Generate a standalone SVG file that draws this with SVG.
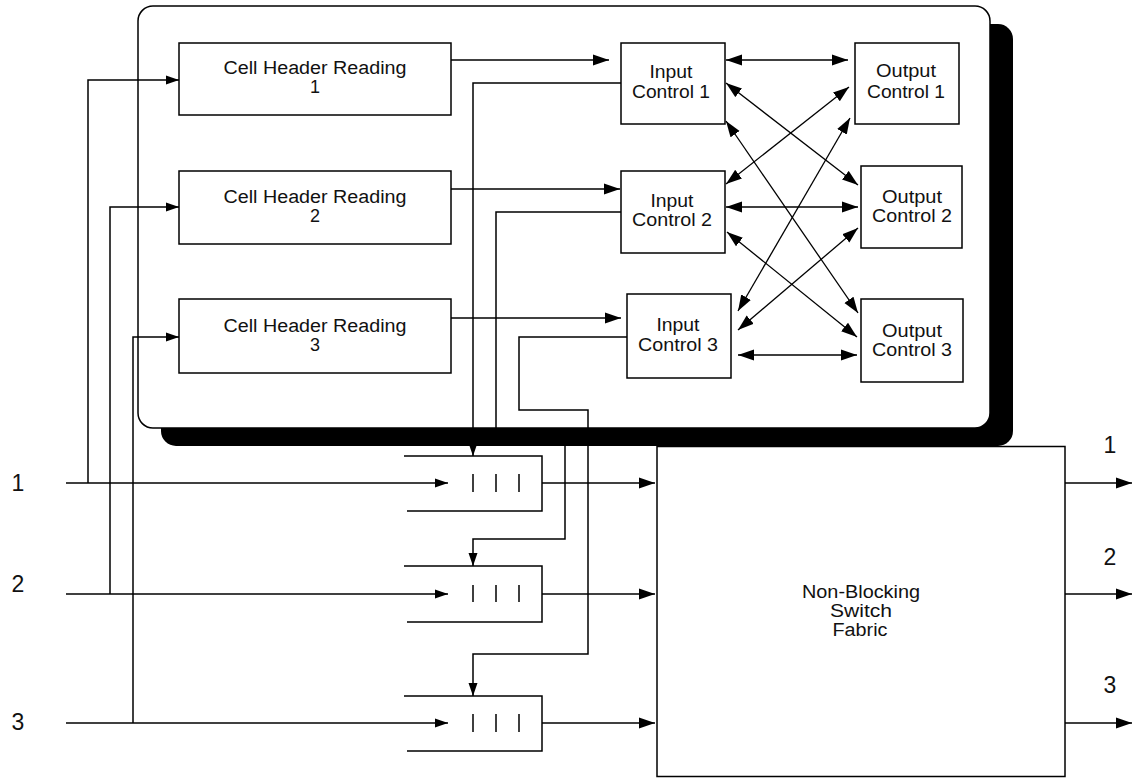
<svg xmlns="http://www.w3.org/2000/svg" width="1139" height="779" viewBox="0 0 1139 779">
<style>
.box{fill:#fff;stroke:#000;stroke-width:1.5}
.t{font-family:"Liberation Sans",Arial,sans-serif;font-size:18px;fill:#111;text-anchor:middle}
.n{font-family:"Liberation Sans",Arial,sans-serif;font-size:23px;fill:#111;text-anchor:middle}
.c{fill:none;stroke:#000;stroke-width:1.5}
.x{fill:none;stroke:#000;stroke-width:1.3}
.bar{stroke:#000;stroke-width:1.5}
</style>
<defs>
<marker id="ah" markerUnits="userSpaceOnUse" viewBox="0 0 16 12" markerWidth="16" markerHeight="12" refX="16" refY="6" orient="auto-start-reverse"><path d="M0,0.5 L16,6 L0,11.5 z" fill="#000"/></marker>
<marker id="as" markerUnits="userSpaceOnUse" viewBox="0 0 13 10" markerWidth="13" markerHeight="10" refX="13" refY="5" orient="auto-start-reverse"><path d="M0,0.5 L13,5 L0,9.5 z" fill="#000"/></marker>
</defs>
<rect width="1139" height="779" fill="#fff"/>

<g id="switch-fabric">
<rect class="box" x="657" y="446.5" width="408" height="330"/>
<text class="t" x="861" y="598" textLength="118" lengthAdjust="spacingAndGlyphs">Non-Blocking</text>
<text class="t" x="861" y="617" textLength="62" lengthAdjust="spacingAndGlyphs">Switch</text>
<text class="t" x="860" y="636" textLength="55" lengthAdjust="spacingAndGlyphs">Fabric</text>
</g>

<g id="control-unit">
<rect x="161" y="24" width="852" height="422" rx="15" fill="#000"/>
<rect class="box" x="138" y="6" width="852" height="422" rx="15"/>
</g>

<g id="chr1">
<rect class="box" x="179" y="43" width="272" height="72"/>
<text class="t" x="315" y="74" textLength="183" lengthAdjust="spacingAndGlyphs">Cell Header Reading</text>
<text class="t" x="315" y="93">1</text>
</g>
<g id="chr2">
<rect class="box" x="179" y="171" width="272" height="73"/>
<text class="t" x="315" y="203" textLength="183" lengthAdjust="spacingAndGlyphs">Cell Header Reading</text>
<text class="t" x="315" y="222">2</text>
</g>
<g id="chr3">
<rect class="box" x="179" y="299" width="272" height="74"/>
<text class="t" x="315" y="332" textLength="183" lengthAdjust="spacingAndGlyphs">Cell Header Reading</text>
<text class="t" x="315" y="351">3</text>
</g>

<g id="ic1">
<rect class="box" x="621" y="43" width="104" height="81"/>
<text class="t" x="671" y="78" textLength="43" lengthAdjust="spacingAndGlyphs">Input</text>
<text class="t" x="671" y="98" textLength="78" lengthAdjust="spacingAndGlyphs">Control 1</text>
</g>
<g id="ic2">
<rect class="box" x="621" y="171" width="104" height="82"/>
<text class="t" x="672" y="207" textLength="43" lengthAdjust="spacingAndGlyphs">Input</text>
<text class="t" x="672" y="226" textLength="80" lengthAdjust="spacingAndGlyphs">Control 2</text>
</g>
<g id="ic3">
<rect class="box" x="627" y="294" width="104" height="84"/>
<text class="t" x="678" y="331" textLength="43" lengthAdjust="spacingAndGlyphs">Input</text>
<text class="t" x="678" y="351" textLength="80" lengthAdjust="spacingAndGlyphs">Control 3</text>
</g>

<g id="oc1">
<rect class="box" x="855" y="43" width="104" height="81"/>
<text class="t" x="906" y="77" textLength="60" lengthAdjust="spacingAndGlyphs">Output</text>
<text class="t" x="906" y="98" textLength="78" lengthAdjust="spacingAndGlyphs">Control 1</text>
</g>
<g id="oc2">
<rect class="box" x="861" y="166" width="101" height="82"/>
<text class="t" x="912" y="203" textLength="60" lengthAdjust="spacingAndGlyphs">Output</text>
<text class="t" x="912" y="222" textLength="80" lengthAdjust="spacingAndGlyphs">Control 2</text>
</g>
<g id="oc3">
<rect class="box" x="861" y="299" width="102" height="83"/>
<text class="t" x="912" y="337" textLength="60" lengthAdjust="spacingAndGlyphs">Output</text>
<text class="t" x="912" y="356" textLength="80" lengthAdjust="spacingAndGlyphs">Control 3</text>
</g>

<g id="queue1">
<path class="c" d="M404,456 H542 V511 H407"/>
<path class="bar" d="M473,474 V492 M496,474 V492 M519,474 V492"/>
</g>
<g id="queue2">
<path class="c" d="M404,566 H542 V622 H407"/>
<path class="bar" d="M473,585 V602 M496,585 V602 M519,585 V602"/>
</g>
<g id="queue3">
<path class="c" d="M404,696 H542 V751 H407"/>
<path class="bar" d="M473,714 V732 M496,714 V732 M519,714 V732"/>
</g>

<g id="labels">
<text class="n" x="18" y="491">1</text>
<text class="n" x="18" y="592">2</text>
<text class="n" x="18" y="730">3</text>
<text class="n" x="1110" y="453">1</text>
<text class="n" x="1110" y="565">2</text>
<text class="n" x="1110" y="693">3</text>
</g>

<g id="connectors">
<!-- inputs to queues -->
<path class="c" d="M66,483 H448" marker-end="url(#as)"/>
<path class="c" d="M66,594 H448" marker-end="url(#as)"/>
<path class="c" d="M66,723 H448" marker-end="url(#as)"/>
<!-- inputs to cell header reading -->
<path class="c" d="M88,483 V80 H179" marker-end="url(#as)"/>
<path class="c" d="M110,594 V207 H179" marker-end="url(#as)"/>
<path class="c" d="M133,723 V337 H179" marker-end="url(#as)"/>
<!-- cell header reading to input control -->
<path class="c" d="M451,60 H609" marker-end="url(#ah)"/>
<path class="c" d="M451,189 H620" marker-end="url(#ah)"/>
<path class="c" d="M451,318 H621" marker-end="url(#ah)"/>
<!-- input control to queues -->
<path class="c" d="M621,83 H473 V456" marker-end="url(#as)"/>
<path class="c" d="M621,212 H496 V437 H565 V539 H473 V566" marker-end="url(#as)"/>
<path class="c" d="M627,337 H519 V410 H588 V654 H473 V696" marker-end="url(#as)"/>
<!-- queues to switch fabric -->
<path class="c" d="M542,483 H655" marker-end="url(#ah)"/>
<path class="c" d="M542,594 H655" marker-end="url(#ah)"/>
<path class="c" d="M542,723 H655" marker-end="url(#ah)"/>
<!-- switch fabric outputs -->
<path class="c" d="M1065,483 H1132" marker-end="url(#ah)"/>
<path class="c" d="M1065,594 H1132" marker-end="url(#ah)"/>
<path class="c" d="M1065,723 H1132" marker-end="url(#ah)"/>
<!-- input control <-> output control -->
<path class="x" d="M726,60 L848,60" marker-start="url(#ah)" marker-end="url(#ah)"/>
<path class="x" d="M726,83 L858,185" marker-start="url(#ah)" marker-end="url(#ah)"/>
<path class="x" d="M726,121 L858,313" marker-start="url(#ah)" marker-end="url(#ah)"/>
<path class="x" d="M726,184 L849,87" marker-start="url(#ah)" marker-end="url(#ah)"/>
<path class="x" d="M726,207 L858,207" marker-start="url(#ah)" marker-end="url(#ah)"/>
<path class="x" d="M727,232 L857,337" marker-start="url(#ah)" marker-end="url(#ah)"/>
<path class="x" d="M738,311 L850,118" marker-start="url(#ah)" marker-end="url(#ah)"/>
<path class="x" d="M738,330 L858,228" marker-start="url(#ah)" marker-end="url(#ah)"/>
<path class="x" d="M738,355 L857,355" marker-start="url(#ah)" marker-end="url(#ah)"/>
</g>
</svg>
